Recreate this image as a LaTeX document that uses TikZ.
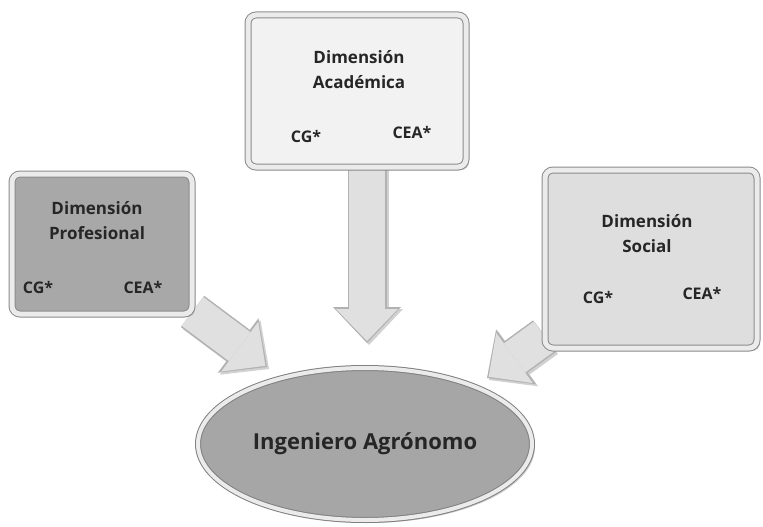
\documentclass[tikz,border=0pt]{standalone}
\usepackage{fontspec}
\setmainfont{Open Sans}
\usetikzlibrary{arrows.meta,shadows,shapes.geometric,backgrounds}

\begin{document}
\begin{tikzpicture}[x=1pt,y=-1pt,
  caja/.style={rectangle, rounded corners=8pt, draw=black!45, line width=1pt,
    double=black!8, double distance=5pt,
    drop shadow={shadow xshift=3pt, shadow yshift=-3pt, opacity=.45}},
  titulo/.style={align=center, text=black!85, font=\bfseries\fontsize{17}{25}\selectfont},
  sigla/.style={text=black!85, font=\bfseries\fontsize{16}{18}\selectfont},
  borde/.style={line width=39pt, draw=black!30, -{Triangle[length=36pt,width=68pt,line width=0pt]}},
  cuerpo/.style={line width=36pt, draw=black!12, shorten >=2pt, -{Triangle[length=32pt,width=62pt,line width=0pt]}},
]
\useasboundingbox (0,0) rectangle (763,527);

% the three boxes
\node[caja, fill=black!34, minimum width=180pt, minimum height=140pt] (prof) at (102,244) {};
\node[caja, fill=black!5, minimum width=218pt, minimum height=152pt] (acad) at (357,91) {};
\node[caja, fill=black!13, minimum width=212pt, minimum height=178pt] (soc) at (651,259) {};

\node[titulo] (tprof) at (97,221) {Dimensión\\Profesional};
\node[sigla] (cgprof) at (38,287) {CG*};
\node[sigla] (ceaprof) at (143,287) {CEA*};

\node[titulo] (tacad) at (359,70) {Dimensión\\Académica};
\node[sigla] (cgacad) at (306,136) {CG*};
\node[sigla] (ceaacad) at (412,132) {CEA*};

\node[titulo] (tsoc) at (647,234) {Dimensión\\Social};
\node[sigla] (cgsoc) at (598,297) {CG*};
\node[sigla] (ceasoc) at (702,293) {CEA*};

% center
\node[ellipse, fill=black!35, draw=black!50, line width=1pt, double=black!8,
  double distance=4pt, minimum width=334pt, minimum height=152pt,
  drop shadow={shadow xshift=3pt, shadow yshift=-3pt, opacity=.4},
  text=black!85, font=\bfseries\fontsize{22}{26}\selectfont] (ing) at (365,444) {Ingeniero Agrónomo};

% block arrows behind everything
\coordinate (pA) at (367,343);
\coordinate (pP) at (267,367);
\coordinate (pS) at (487,378);
\coordinate (sA) at (acad.center -| pA);
\begin{scope}[on background layer]
\foreach \ini/\fin in {sA/pA, prof/pP, soc/pS}{
  \draw[borde, draw=black!18, transform canvas={xshift=2pt,yshift=-2pt}] (\ini) -- (\fin);
  \draw[borde] (\ini) -- (\fin);
  \draw[cuerpo] (\ini) -- (\fin);
}
\end{scope}
\end{tikzpicture}
\end{document}
